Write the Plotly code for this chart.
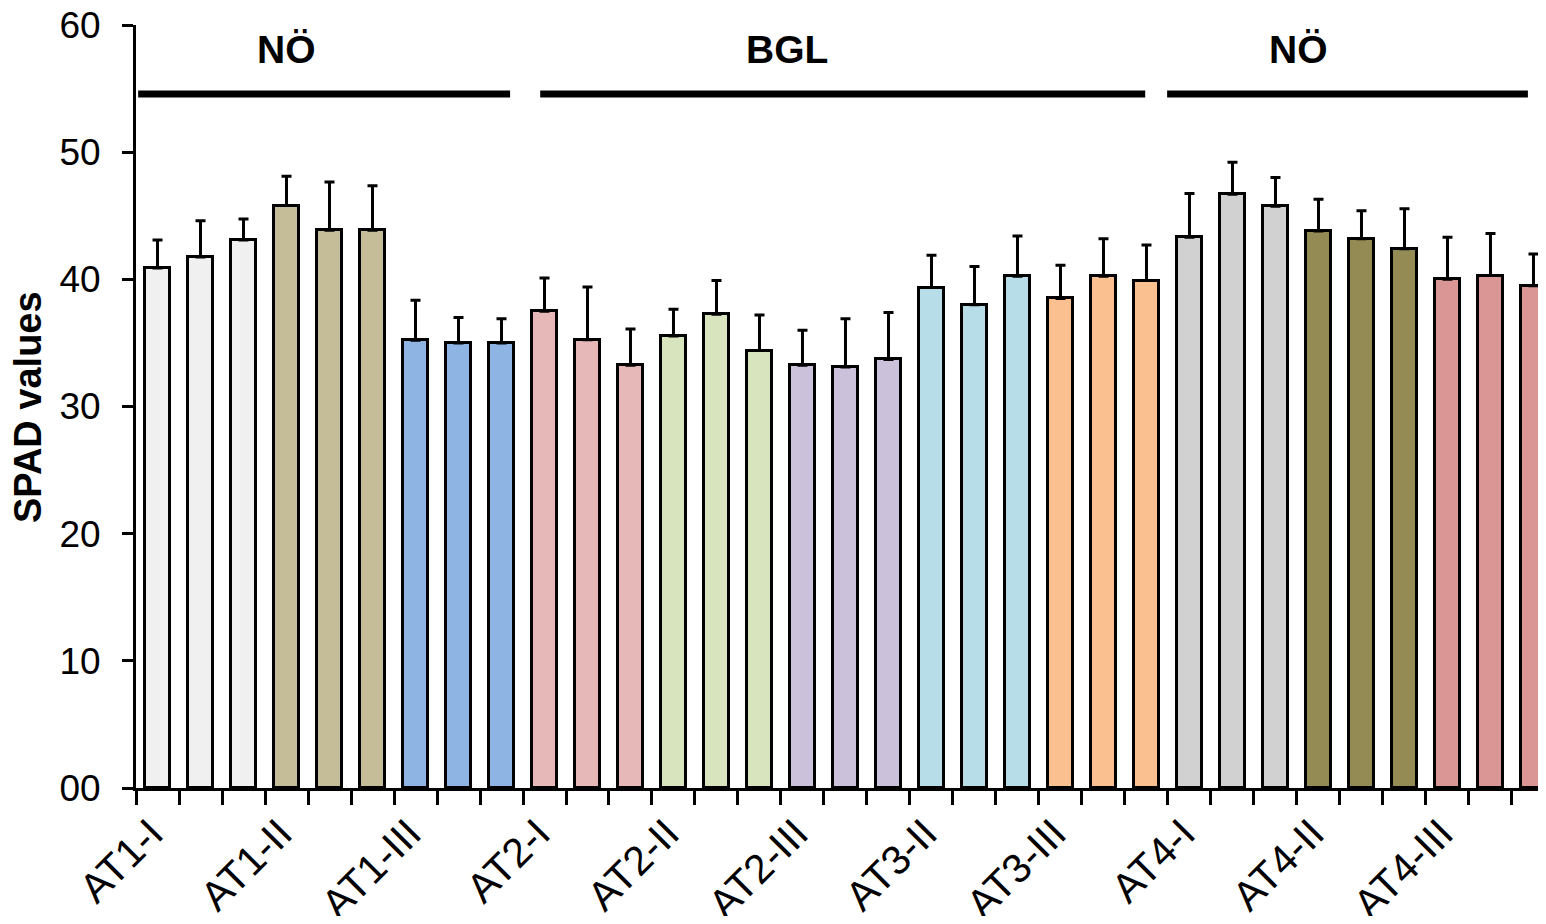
import plotly.graph_objects as go

# ---- data ----
groups = ["AT1-I", "AT1-II", "AT1-III", "AT2-I", "AT2-II", "AT2-III",
          "AT3-II", "AT3-III", "AT4-I", "AT4-II", "AT4-III"]
group_colors = ["#F0F0F0", "#C4BD97", "#8DB4E2", "#E6B9B8", "#D7E4BD", "#CCC1DA",
                "#B7DEE8", "#FAC090", "#D1D1D1", "#948A54", "#D99694"]
bars_per_group = 3

spad_values = [40.9, 41.75, 43.1,
               45.8, 43.85, 43.85,
               35.2, 35.0, 35.0,
               37.5, 35.25, 33.25,
               35.55, 37.25, 34.4,
               33.25, 33.1, 33.7,
               39.35, 38.0, 40.25,
               38.5, 40.25, 39.9,
               43.3, 46.7, 45.75,
               43.8, 43.2, 42.4,
               40.0, 40.3, 39.5]
spad_errors = [2.2, 2.85, 1.65,
               2.3, 3.8, 3.5,
               3.15, 2.0, 1.9,
               2.6, 4.15, 2.85,
               2.1, 2.65, 2.8,
               2.75, 3.8, 3.7,
               2.55, 3.0, 3.15,
               2.6, 2.95, 2.8,
               3.45, 2.5, 2.25,
               2.5, 2.2, 3.15,
               3.3, 3.3, 2.5]

y_tickvals = [0, 10, 20, 30, 40, 50, 60]
y_ticktext = ["00", "10", "20", "30", "40", "50", "60"]

region_labels = ["NÖ", "BGL", "NÖ"]

# ---- layout constants (positions in axis units) ----
region_spans = [(-0.45, 8.2), (8.9, 22.97), (23.48, 31.87)]
region_label_x = [3.0, 14.64, 26.53]
region_line_y = 54.57
region_label_y = 58.05
label_shift = -0.15

n = len(spad_values)
x = list(range(n))
colors = [group_colors[i // bars_per_group] for i in range(n)]
label_pos = [i * bars_per_group + label_shift for i in range(len(groups))]

FONT = "Liberation Sans, Arial, Helvetica, sans-serif"

fig = go.Figure()
fig.add_trace(go.Bar(
    x=x, y=spad_values,
    width=0.58,
    marker=dict(color=colors, line=dict(color="black", width=3)),
    error_y=dict(type="data", array=spad_errors, arrayminus=[0] * n,
                 symmetric=False, color="black", thickness=3, width=5),
    showlegend=False,
))

shapes = []
for (x0, x1) in region_spans:
    shapes.append(dict(type="line", xref="x", yref="y", x0=x0, x1=x1,
                       y0=region_line_y, y1=region_line_y,
                       line=dict(color="black", width=7)))

annotations = []
for lab, lx in zip(region_labels, region_label_x):
    annotations.append(dict(xref="x", yref="y", x=lx, y=region_label_y, text=f"<b>{lab}</b>",
                            showarrow=False, xanchor="center", yanchor="middle",
                            font=dict(family=FONT, size=39, color="black")))
annotations.append(dict(xref="paper", yref="paper", x=-0.0774, y=0.5, text="<b>SPAD values</b>",
                        textangle=-90, showarrow=False, xanchor="center", yanchor="middle",
                        font=dict(family=FONT, size=38, color="black")))

fig.update_layout(
    width=1530, height=908,
    margin=dict(l=128, r=0, t=17, b=128, pad=0, autoexpand=False),
    plot_bgcolor="white", paper_bgcolor="white",
    font=dict(family=FONT, color="black"),
    shapes=shapes, annotations=annotations,
    bargap=0,
)
fig.update_xaxes(
    type="linear", range=[-0.5, 32.105], automargin=False,
    tickmode="array", tickvals=label_pos, ticktext=groups,
    ticks="", tickangle=-45, tickfont=dict(size=41, color="black"),
    ticklabelstandoff=2, ticklabeloverflow="allow",
    minor=dict(tickmode="array", tickvals=[i - 0.5 for i in range(n + 1)],
               ticks="outside", ticklen=14, tickwidth=3, tickcolor="black", showgrid=False),
    showline=True, linecolor="black", linewidth=3,
    showgrid=False, zeroline=False,
)
fig.update_yaxes(
    range=[0, 60], automargin=False,
    tickmode="array", tickvals=y_tickvals, ticktext=y_ticktext,
    ticks="outside", ticklen=11, tickwidth=3, tickcolor="black",
    tickfont=dict(size=37, color="black"), ticklabelstandoff=14, ticklabeloverflow="allow",
    showline=True, linecolor="black", linewidth=3,
    showgrid=False, zeroline=False,
)

fig.write_html("out.html")
